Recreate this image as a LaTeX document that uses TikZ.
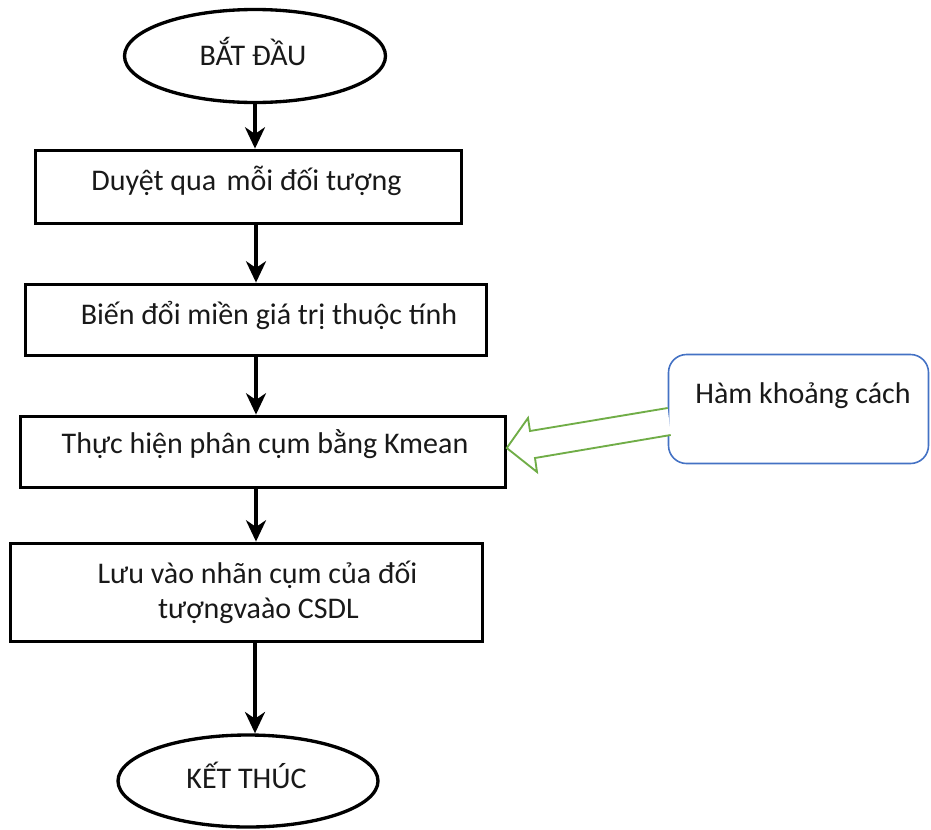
\documentclass[tikz,border=0pt]{standalone}
\usepackage{fontspec}
\setmainfont{Carlito}
\usetikzlibrary{arrows.meta,shapes.geometric}
\definecolor{noteblue}{RGB}{68,114,196}
\definecolor{hintgreen}{RGB}{112,173,71}
\begin{document}
\begin{tikzpicture}[x=0.75pt,y=-0.75pt,
  every node/.style={font=\fontsize{22.5}{26}\selectfont},
  flowbox/.style={draw, line width=2.9pt, rectangle, inner sep=0pt},
  term/.style={draw, line width=2.5pt, ellipse, inner sep=0pt},
  note/.style={draw=noteblue, line width=1.2pt, rounded corners=13.5pt, rectangle, inner sep=0pt},
  lbl/.style={inner sep=0pt, anchor=base, text=black!90},
  flow/.style={line width=2.5pt, -{Stealth[length=16pt,width=15pt,inset=5pt]}}
]
\useasboundingbox (0,0) rectangle (931,829);

% terminals
\node[term, minimum width=195.75pt, minimum height=69.75pt] (start) at (255,56) {};
\node[term, minimum width=195pt, minimum height=69pt] (stop) at (248,781) {};

% process boxes
\node[flowbox, minimum width=319.5pt, minimum height=54.75pt] (b1) at (248.5,187) {};
\node[flowbox, minimum width=345.75pt, minimum height=53.25pt] (b2) at (256,320) {};
\node[flowbox, minimum width=363.75pt, minimum height=53.25pt] (b3) at (263,452) {};
\node[flowbox, minimum width=354pt, minimum height=73.5pt] (b4) at (246.5,592.5) {};

% side note
\node[note, minimum width=195pt, minimum height=81.75pt] (hint) at (798.5,409) {};

% texts
\node[lbl] (tstart) at (253,65) {BẮT ĐẦU};
\node[lbl] (t1) at (246.5,190) {Duyệt qua\kern0.12em\ mỗi đối tượng};
\node[lbl] (t2) at (269,324) {Biến đổi miền giá trị thuộc tính};
\node[lbl] (t3) at (265,453) {Thực hiện phân cụm bằng Kmean};
\node[lbl] (t4a) at (257.5,583) {Lưu vào nhãn cụm của đối};
\node[lbl] (t4b) at (258.5,618) {tượngvaào CSDL};
\node[lbl] (tstop) at (246.5,788) {KẾT THÚC};
\node[lbl] (thint) at (803,403) {Hàm khoảng cách};

% flow connectors
\draw[flow] (start.south) -- (start.south |- b1.north);
\draw[flow] (b1.south -| b2.north) -- (b2.north);
\draw[flow] (b2.south) -- (b2.south |- b3.north);
\draw[flow] (b3.south -| b2.south) -- (b4.north -| b2.south);
\draw[flow] (b4.south -| start.south) -- (stop.north -| start.south);

% hollow block arrow from the note into the clustering step
\coordinate (tailtop) at (hint.west |- 0,408);
\coordinate (tailbot) at ([xshift=2.25pt]hint.west |- 0,435);
\coordinate (tip) at (b3.east);
\draw[hintgreen, line width=1.4pt, fill=white, line join=miter]
  (tailtop) -- (530,431) -- (528,418) -- ([xshift=-0.5pt]tip |- 0,448)
  -- (537,472) -- (535,458) -- (tailbot);
\end{tikzpicture}
\end{document}
